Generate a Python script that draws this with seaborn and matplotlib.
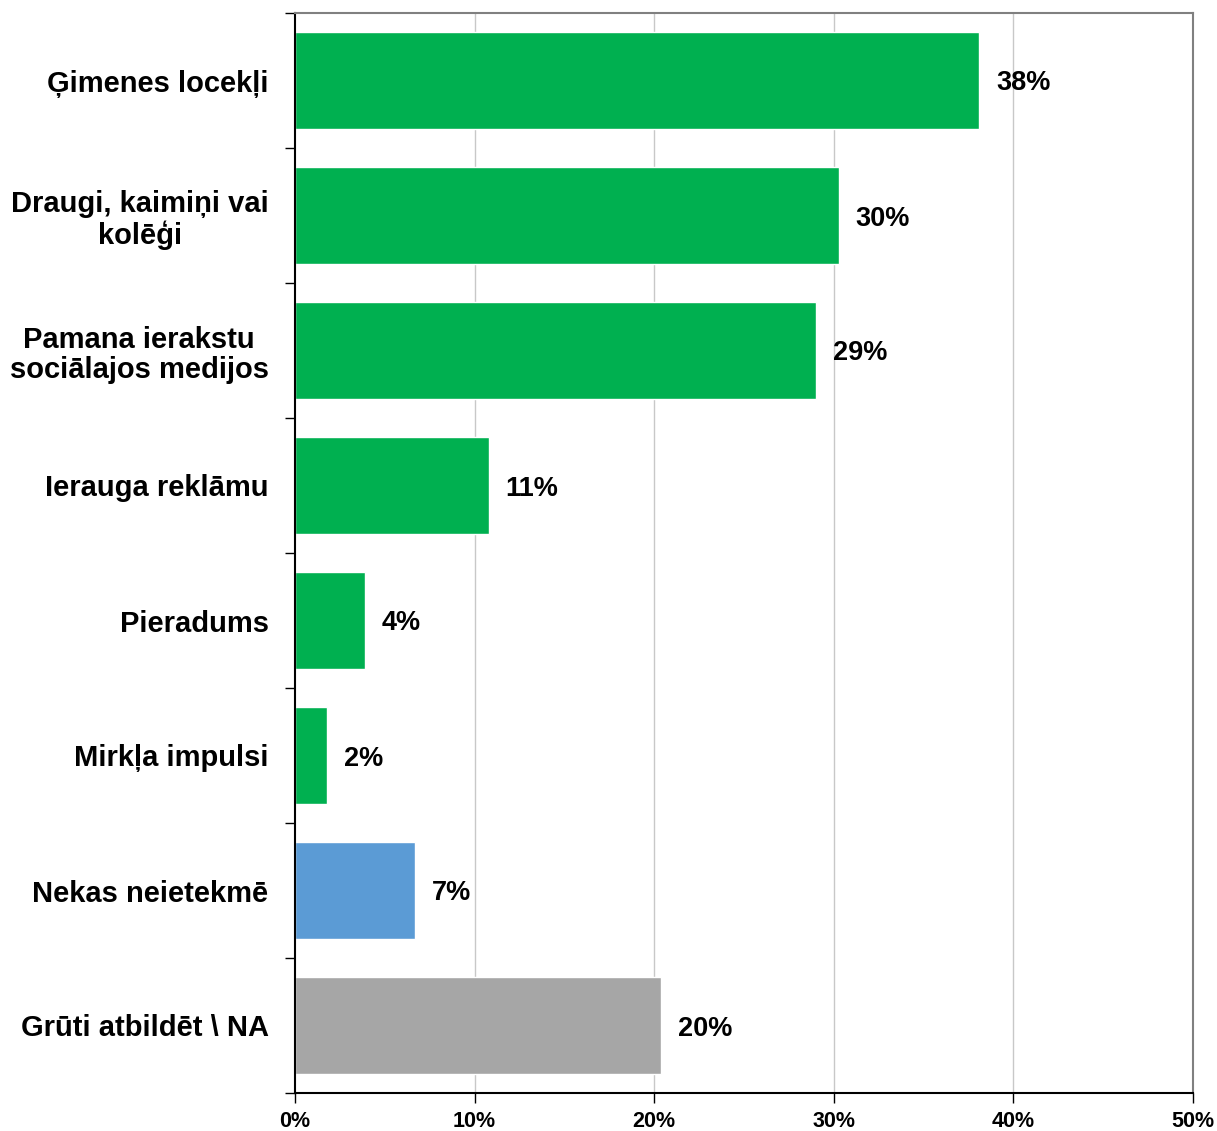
import matplotlib
matplotlib.use("Agg")
import matplotlib.pyplot as plt
import seaborn as sns
import pandas as pd
import numpy as np
from matplotlib.ticker import FixedLocator, PercentFormatter

categories = [
    "Ģimenes locekļi",
    "Draugi, kaimiņi vai\nkolēģi",
    "Pamana ierakstu\nsociālajos medijos",
    "Ierauga reklāmu",
    "Pieradums",
    "Mirkļa impulsi",
    "Nekas neietekmē",
    "Grūti atbildēt \\ NA",
]
values = [38.1, 30.3, 29.0, 10.8, 3.9, 1.8, 6.7, 20.4]
labels = ["38%", "30%", "29%", "11%", "4%", "2%", "7%", "20%"]
groups = ["g", "g", "g", "g", "g", "g", "b", "n"]
palette = {"g": "#00B050", "b": "#5B9BD5", "n": "#A6A6A6"}
xticks = [0, 10, 20, 30, 40, 50]

sns.set_style("white")
plt.rcParams["font.family"] = ["Liberation Sans", "DejaVu Sans"]
plt.rcParams["font.weight"] = "bold"
plt.rcParams["text.color"] = "black"
plt.rcParams["xtick.color"] = "black"
plt.rcParams["ytick.color"] = "black"

df = pd.DataFrame({"cat": categories, "val": values, "grp": groups})

fig = plt.figure(figsize=(12.17, 11.31), dpi=100)
ax = fig.add_axes([295 / 1217, 1 - 1093 / 1131, (1193 - 295) / 1217, (1093 - 13) / 1131])

sns.barplot(data=df, y="cat", x="val", hue="grp", palette=palette, dodge=False,
            width=0.72, legend=False, ax=ax, orient="h", saturation=1)

ax.set_xlim(0, 50)
ax.set_ylim(7.5, -0.5)
ax.set_xticks(xticks)
ax.xaxis.set_major_formatter(PercentFormatter(decimals=0))
ax.set_xlabel("")
ax.set_ylabel("")

for x in xticks[1:-1]:
    ax.axvline(x, color="#C8C8C8", lw=1, zorder=0)
ax.set_axisbelow(True)

# bar value labels
for p, lab in zip(ax.patches, labels):
    w = p.get_width()
    yc = p.get_y() + p.get_height() / 2
    ax.annotate(lab, (w, yc), xytext=(12, 0), textcoords="offset points",
                ha="left", va="center_baseline", fontsize=19.5, fontweight="bold", color="black")

ax.tick_params(axis="y", which="major", length=0, pad=19, labelsize=21, labelcolor="black")
for t in ax.get_yticklabels():
    t.set_fontweight("bold")
    t.set_multialignment("center")
    t.set_linespacing(1.1)
ax.yaxis.set_minor_locator(FixedLocator(np.arange(-0.5, 8.0, 1.0)))
ax.tick_params(axis="y", which="minor", length=7, width=1, color="black", direction="out", left=True)
ax.tick_params(axis="x", which="major", length=7, width=1, color="black", direction="out",
               bottom=True, labelsize=15.5, pad=6, labelcolor="black")
for t in ax.get_xticklabels():
    t.set_fontweight("bold")

for s in ["left", "bottom"]:
    ax.spines[s].set_color("black")
    ax.spines[s].set_linewidth(1.5)
for s in ["top", "right"]:
    ax.spines[s].set_color("#808080")
    ax.spines[s].set_linewidth(1.5)

fig.savefig("out.png", dpi=100)
